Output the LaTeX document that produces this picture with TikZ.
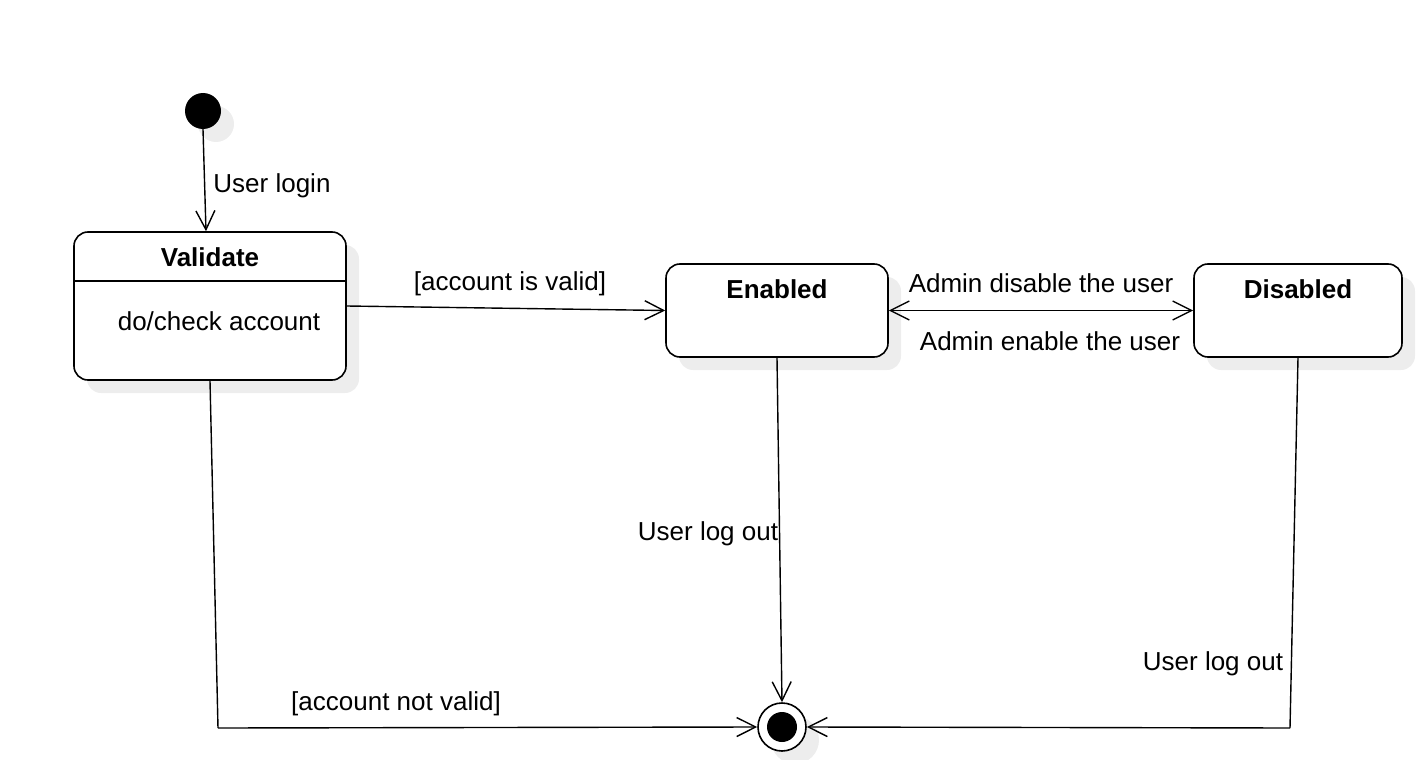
\documentclass[tikz,border=0pt]{standalone}
\usepackage{fontspec}
\setmainfont{Liberation Sans}
\usetikzlibrary{arrows.meta,shadows}
\begin{document}
\begin{tikzpicture}[x=1pt,y=-1pt,
  every node/.style={font=\fontsize{26}{30}\selectfont, inner sep=0pt},
  shad/.style={drop shadow={shadow xshift=13pt,shadow yshift=-13pt,fill=black!7,opacity=1}},
  statebox/.style={draw, line width=1.6pt, rounded corners=14pt, fill=white, shad},
  conn/.style={line width=1.4pt, -{Straight Barb[length=19pt,width=19pt]}},
  dconn/.style={line width=1.4pt, {Straight Barb[length=19pt,width=19pt]}-{Straight Barb[length=19pt,width=19pt]}},
  seg/.style={line width=1.4pt}
]
\useasboundingbox (0,0) rectangle (1428,760);

% states
\node[circle, fill=black, minimum size=36pt, shad] (init) at (203,111) {};
\node[statebox, minimum width=272pt, minimum height=148pt] (val) at (210,306) {};
\node[statebox, minimum width=222pt, minimum height=93pt] (en) at (777,310.5) {};
\node[statebox, minimum width=208pt, minimum height=93pt] (dis) at (1298,310.5) {};
\node[circle, draw, line width=1.6pt, fill=white, minimum size=48pt, shad] (fin) at (782,727) {};
\node[circle, fill=black, minimum size=30pt] (finin) at (782,727) {};

% state texts
\draw[line width=1.6pt] ([yshift=-50pt]val.north west) -- ([yshift=-50pt]val.north east);
\node (valt) at (210,257) {\textbf{Validate}};
\node (valdo) at (219,321) {do/check account};
\node (ent) at (777,289) {\textbf{Enabled}};
\node (dist) at (1298,289) {\textbf{Disabled}};

% bend points
\coordinate (c1) at (218,728);
\coordinate (c2) at (1290,728);

% connectors
\draw[conn] (init.south) -- ([xshift=-4pt]val.north);
\draw[conn] (val.east) -- (en.west);
\draw[dconn] (en.east) -- (dis.west);
\draw[conn] (en.south) -- (fin.north);
\draw[seg] (val.south) -- (c1);
\draw[conn] (c1) -- (fin.west);
\draw[seg] (dis.south) -- (c2);
\draw[conn] (c2) -- (fin.east);

% labels
\node (l1) at (272,186) {User login};
\node (l2) at (510,284) {[account is valid]};
\node (l3) at (1041,283) {Admin disable the user};
\node (l4) at (1050,341) {Admin enable the user};
\node (l5) at (708,534) {User log out};
\node (l6) at (1213,664) {User log out};
\node (l7) at (396,704) {[account not valid]};
\end{tikzpicture}
\end{document}
